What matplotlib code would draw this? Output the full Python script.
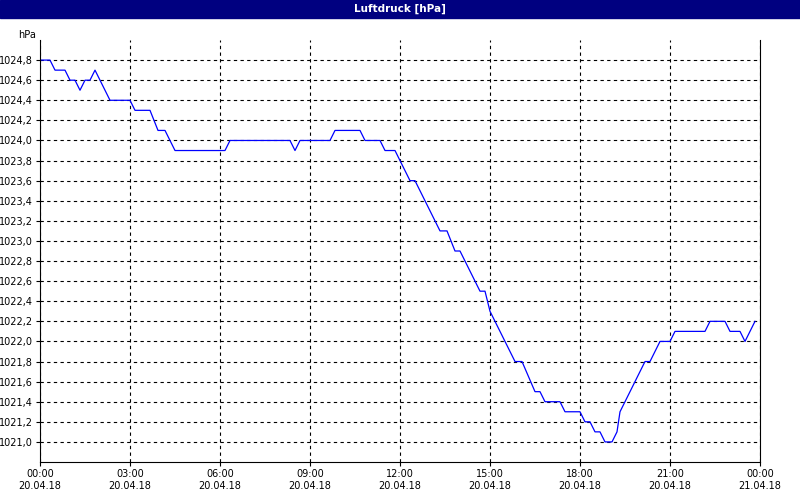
import matplotlib
matplotlib.use("Agg")
import matplotlib.pyplot as plt
import numpy as np

px = [40,50,55,65,70,75,80,85,90,95,110,130,135,150,158,165,175,225,230,290,295,300,330,335,360,365,380,385,395,
      410,415,440,447,455,460,480,485,490,515,522,535,540,545,560,565,580,585,590,595,600,605,612,617,620,645,650,
      660,670,675,705,710,725,730,740,745,755]
hours = [(p-40)/30 for p in px]
values = [1024.8,1024.8,1024.7,1024.7,1024.6,1024.6,1024.5,1024.6,1024.6,1024.7,1024.4,1024.4,1024.3,1024.3,1024.1,1024.1,
          1023.9,1023.9,1024.0,1024.0,1023.9,1024.0,1024.0,1024.1,1024.1,1024.0,1024.0,1023.9,1023.9,
          1023.6,1023.6,1023.1,1023.1,1022.9,1022.9,1022.5,1022.5,1022.3,1021.8,1021.8,1021.5,1021.5,1021.4,1021.4,
          1021.3,1021.3,1021.2,1021.2,1021.1,1021.1,1021.0,1021.0,1021.1,1021.3,1021.8,1021.8,
          1022.0,1022.0,1022.1,1022.1,1022.2,1022.2,1022.1,1022.1,1022.0,1022.2]
xtick_labels = ["00:00\n20.04.18","03:00\n20.04.18","06:00\n20.04.18","09:00\n20.04.18","12:00\n20.04.18",
                "15:00\n20.04.18","18:00\n20.04.18","21:00\n20.04.18","00:00\n21.04.18"]
yticks = np.round(np.arange(1021.0, 1024.81, 0.2), 1)

fig = plt.figure(figsize=(8, 5), dpi=100)
fig.patches.append(plt.Rectangle((0, 482/500), 1, 18/500, transform=fig.transFigure, color="#000080", zorder=0))
fig.text(0.5, 491/500, "Luftdruck [hPa]", color="white", fontsize=7.5, fontweight="bold", ha="center", va="center")
ax = fig.add_axes([40/800, 38/500, 720/800, 422/500])
ax.plot(hours, values, color="#0000ff", lw=0.9)
ax.set_xlim(0, 24)
ax.set_ylim(1020.8, 1025.0)
ax.set_xticks(range(0, 25, 3))
ax.set_xticklabels(xtick_labels, fontsize=7)
ax.set_yticks(yticks)
ax.set_yticklabels([f"{v:.1f}".replace(".", ",") for v in yticks], fontsize=7)
ax.grid(True, color="black", ls=(0, (3, 3)), lw=0.8)
ax.tick_params(length=3, pad=2)
for s in ["top"]:
    ax.spines[s].set_visible(False)
ax.text(-0.005, 1.0, "hPa", transform=ax.transAxes, fontsize=7, ha="right", va="bottom")
fig.savefig("out.png")
